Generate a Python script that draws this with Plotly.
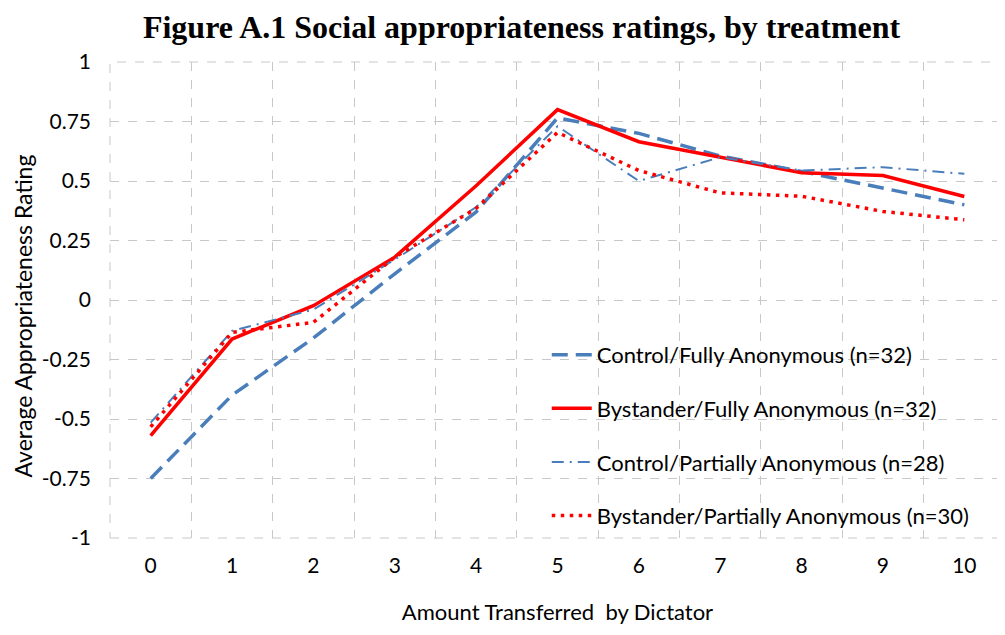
import plotly.graph_objects as go

amounts = list(range(11))
tick_labels = [str(a) for a in amounts]

control_full = [-0.75, -0.40, -0.16, 0.11, 0.37, 0.765, 0.70, 0.605, 0.54, 0.47, 0.40]
bystander_full = [-0.57, -0.164, -0.024, 0.18, 0.48, 0.80, 0.665, 0.60, 0.535, 0.523, 0.435]
control_partial = [-0.515, -0.13, -0.04, 0.17, 0.39, 0.73, 0.50, 0.60, 0.544, 0.558, 0.53]
bystander_partial = [-0.533, -0.136, -0.094, 0.18, 0.385, 0.704, 0.544, 0.45, 0.436, 0.372, 0.337]

series_names = [
    "Control/Fully Anonymous (n=32)",
    "Bystander/Fully Anonymous (n=32)",
    "Control/Partially Anonymous (n=28)",
    "Bystander/Partially Anonymous (n=30)",
]

y_ticks = [1, 0.75, 0.5, 0.25, 0, -0.25, -0.5, -0.75, -1]
y_tick_labels = ["1", "0.75", "0.5", "0.25", "0", "-0.25", "-0.5", "-0.75", "-1"]

BLUE = "#4A7EBB"
RED = "#FF0000"
FONT = "Lato"

fig = go.Figure()
styles = [
    (control_full, dict(color=BLUE, width=3.5, dash="16px,8px")),
    (bystander_full, dict(color=RED, width=3.5)),
    (control_partial, dict(color=BLUE, width=2, dash="12px,6px,2px,6px")),
    (bystander_partial, dict(color=RED, width=3.5, dash="3.5px,5.5px")),
]
for i, (vals, line) in enumerate(styles):
    fig.add_trace(go.Scatter(
        x=amounts, y=vals, mode="lines", name=series_names[i],
        line=line, legendgroup=f"g{i}",
    ))

grid = "#C8C8C8"
fig.update_layout(
    width=1005, height=635,
    margin=dict(l=102, r=8, t=54, b=105),
    paper_bgcolor="white", plot_bgcolor="white",
    title=dict(
        text="<b>Figure A.1 Social appropriateness ratings, by treatment</b>",
        font=dict(family="Liberation Serif", size=32, color="black"),
        x=0.511, xanchor="center", y=0.970, yanchor="middle",
    ),
    font=dict(family=FONT, size=22, color="black"),
    xaxis=dict(
        range=[-0.5, 10.5], tickmode="array", tickvals=amounts, ticktext=tick_labels,
        showgrid=False, zeroline=False, showline=False, ticks="",
        ticklabelstandoff=13, tickfont=dict(size=21),
        minor=dict(tickmode="array", tickvals=[k + 0.5 for k in range(-1, 11)],
                   showgrid=True, gridcolor=grid, griddash="dash", gridwidth=1, ticks=""),
        title=dict(text="Amount Transferred  by Dictator", font=dict(size=22), standoff=28),
    ),
    yaxis=dict(
        range=[-1, 1], tickmode="array", tickvals=y_ticks, ticktext=y_tick_labels,
        showgrid=True, gridcolor=grid, griddash="dash", gridwidth=1,
        zeroline=False, showline=False, ticks="", ticklabelstandoff=18,
        tickfont=dict(size=21),
    ),
    legend=dict(
        x=0.488, y=0.4287, xanchor="left", yanchor="top",
        bgcolor="rgba(0,0,0,0)", font=dict(size=22, family=FONT),
        tracegroupgap=22, itemwidth=40,
    ),
    showlegend=True,
)
fig.add_annotation(
    text="Average Appropriateness Rating", textangle=-90,
    xref="paper", yref="paper", x=-0.0983, y=0.4653,
    xanchor="center", yanchor="middle", showarrow=False,
    font=dict(family=FONT, size=23, color="black"),
)
fig.add_shape(type="rect", xref="x domain", yref="y domain", x0=0, x1=1, y0=0, y1=1,
              line=dict(color=grid, width=1, dash="dash"), layer="below")

fig.write_html("out.html")
